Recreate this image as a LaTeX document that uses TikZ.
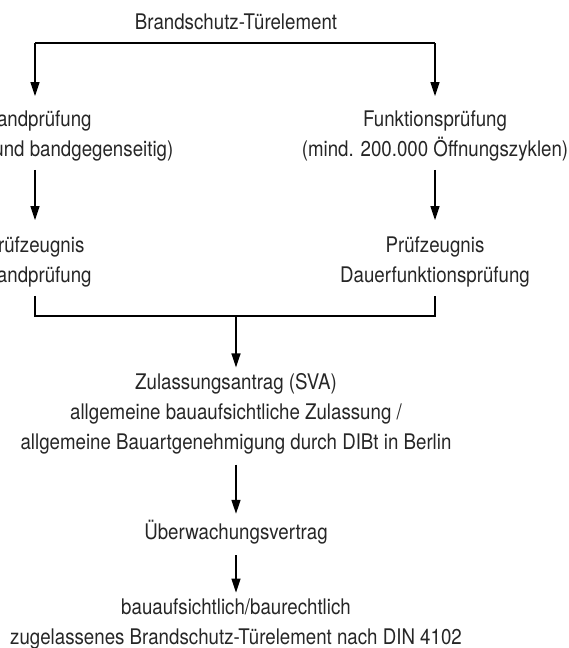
\documentclass[tikz,border=0pt]{standalone}
\usepackage{fontspec}
\setmainfont{TeX Gyre Heros}[FakeStretch=0.87]
\usetikzlibrary{arrows.meta}
\begin{document}
\begin{tikzpicture}[x=1pt,y=-1pt,
  txt/.style={font=\fontsize{21.5}{30}\selectfont, align=center, inner sep=0pt, text=black!85},
  ln/.style={line width=1.4pt, draw=black},
  arr/.style={ln, -{Triangle[length=14pt,width=9pt]}}]
\useasboundingbox (0,0) rectangle (568,648);
\node[txt] (title) at (236,22) {Brandschutz-Türelement};
\coordinate (tl) at (35,43);
\coordinate (tr) at (435,43);
\node[txt] (fire) at (35,135.5) {Brandprüfung\\(bandseitig und bandgegenseitig)};
\node[txt] (func) at (435,135.5) {Funktionsprüfung\\(mind. 200.000 Öffnungszyklen)};
\node[txt] (certL) at (35,261.5) {Prüfzeugnis\\Brandprüfung};
\node[txt] (certR) at (435,261.5) {Prüfzeugnis\\Dauerfunktionsprüfung};
\coordinate (jc) at (236,316);
\node[txt] (zul) at (236,414) {Zulassungsantrag (SVA)\\allgemeine bauaufsichtliche Zulassung /\\allgemeine Bauartgenehmigung durch DIBt in Berlin};
\node[txt] (ueb) at (236,532) {Überwachungsvertrag};
\node[txt] (fin) at (236,624) {bauaufsichtlich/baurechtlich\\zugelassenes Brandschutz-Türelement nach DIN 4102};
\draw[ln] (tl) -- (tr);
\draw[arr, shorten >=14pt] (tl) -- (fire.north);
\draw[arr, shorten >=14pt] (tr) -- (func.north);
\draw[arr, shorten <=9pt, shorten >=16pt] (fire.south) -- (certL.north);
\draw[arr, shorten <=9pt, shorten >=16pt] (func.south) -- (certR.north);
\draw[ln, shorten <=9pt, shorten >=9pt] (certL.south) |- (jc) -| (certR.south);
\draw[arr, shorten >=6pt] (jc) -- (zul.north);
\draw[arr, shorten <=10pt, shorten >=6pt] (zul.south) -- (ueb.north);
\draw[arr, shorten <=11pt, shorten >=6pt] (ueb.south) -- (fin.north);
\end{tikzpicture}
\end{document}
